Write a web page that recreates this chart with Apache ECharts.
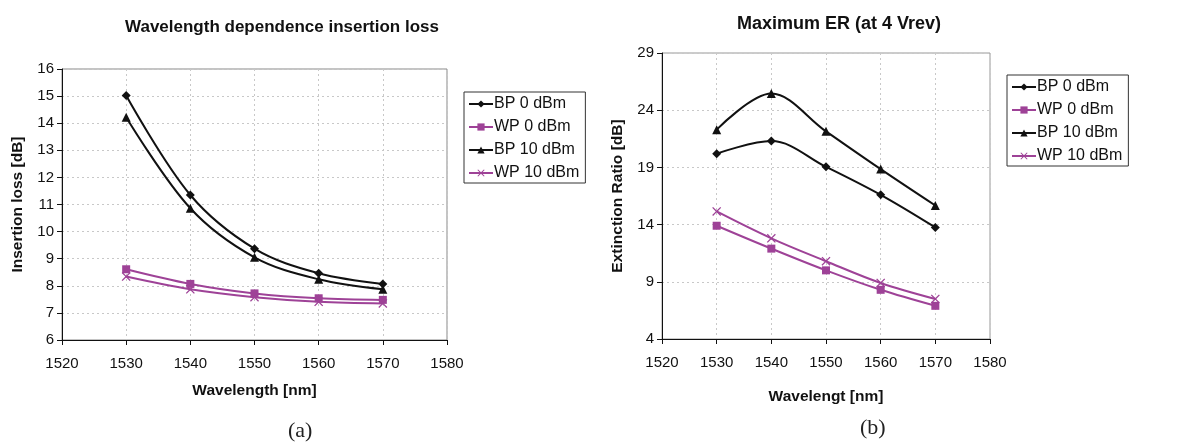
<!DOCTYPE html>
<html>
<head>
<meta charset="utf-8">
<script src="https://cdn.jsdelivr.net/npm/echarts@6/dist/echarts.min.js"></script>
<style>
  html, body { margin: 0; padding: 0; background: #fff; }
  #chart { width: 1191px; height: 446px; }
</style>
</head>
<body>
<div id="chart"></div>
<script>
// Wavelength points (nm)
const wavelengths = [1530, 1540, 1550, 1560, 1570];
const seriesNames = ['BP 0 dBm', 'WP 0 dBm', 'BP 10 dBm', 'WP 10 dBm'];

// (a) insertion loss [dB]
const ilBP0  = [15.02, 11.35, 9.37, 8.46, 8.07];
const ilWP0  = [8.61, 8.07, 7.72, 7.54, 7.48];
const ilBP10 = [14.22, 10.86, 9.05, 8.24, 7.87];
const ilWP10 = [8.34, 7.87, 7.58, 7.41, 7.35];

// (b) extinction ratio [dB]
const erBP0  = [20.2, 21.3, 19.05, 16.6, 13.75];
const erWP0  = [13.9, 11.9, 10.0, 8.3, 6.9];
const erBP10 = [22.3, 25.45, 22.15, 18.85, 15.67];
const erWP10 = [15.15, 12.8, 10.8, 8.9, 7.5];

const BLACK = '#111111';
const PURPLE = '#9e4297';
const crossPath = 'path://M0,1L1,0L5,4L9,0L10,1L6,5L10,9L9,10L5,6L1,10L0,9L4,5Z';

const styles = [
  { color: BLACK,  symbol: 'diamond',  size: 9 },
  { color: PURPLE, symbol: 'rect',     size: 8 },
  { color: BLACK,  symbol: 'triangle', size: 9 },
  { color: PURPLE, symbol: crossPath,  size: 9 }
];

function pairs(ys) { return wavelengths.map((x, i) => [x, ys[i]]); }

function makeSeries(values, axisIndex) {
  return values.map((ys, k) => ({
    name: seriesNames[k],
    type: 'line',
    smooth: 0.35,
    xAxisIndex: axisIndex,
    yAxisIndex: axisIndex,
    data: pairs(ys),
    symbol: styles[k].symbol,
    symbolSize: styles[k].size,
    lineStyle: { color: styles[k].color, width: 2 },
    itemStyle: { color: styles[k].color },
    emphasis: { disabled: true },
    z: 3
  }));
}

const tickFont = { fontFamily: 'Liberation Sans', fontSize: 15, color: '#111' };
const nameFont = { fontFamily: 'Liberation Sans', fontSize: 15.5, fontWeight: 'bold', color: '#111' };
const dotted = { show: true, lineStyle: { type: [2, 3], color: '#c8c8c8', width: 1 } };

function xAxis(gridIndex, name, gap) {
  return {
    type: 'value', gridIndex, min: 1520, max: 1580, interval: 10,
    name, nameLocation: 'middle', nameGap: gap, nameTextStyle: nameFont,
    axisLine: { show: true, lineStyle: { color: '#111', width: 1 } },
    axisTick: { show: true, length: 5, lineStyle: { color: '#111' } },
    axisLabel: Object.assign({ margin: 16, formatter: v => String(v) }, tickFont),
    splitLine: dotted
  };
}

function yAxis(gridIndex, name, min, max, interval, gap) {
  return {
    type: 'value', gridIndex, min, max, interval,
    name, nameLocation: 'middle', nameGap: gap, nameTextStyle: nameFont,
    axisLine: { show: true, lineStyle: { color: '#111', width: 1 } },
    axisTick: { show: true, length: 5, lineStyle: { color: '#111' } },
    axisLabel: Object.assign({ margin: 8 }, tickFont),
    splitLine: dotted
  };
}

function legend(left, top) {
  return {
    orient: 'vertical', left, top,
    data: seriesNames,
    itemWidth: 24, itemHeight: 9, itemGap: 7,
    padding: [4, 6, 2, 4],
    borderColor: '#333', borderWidth: 1,
    textStyle: { fontFamily: 'Liberation Sans', fontSize: 16, color: '#111', padding: [0, 0, 0, -4] },
    selectedMode: false
  };
}

const chart = echarts.init(document.getElementById('chart'), null, { renderer: 'canvas' });
chart.setOption({
  animation: false,
  backgroundColor: '#fff',
  title: [
    { text: 'Wavelength dependence insertion loss', left: 277, top: 14, textAlign: 'center',
      textStyle: { fontFamily: 'Liberation Sans', fontSize: 17, fontWeight: 'bold', color: '#111' } },
    { text: 'Maximum ER (at 4 Vrev)', left: 834, top: 10, textAlign: 'center',
      textStyle: { fontFamily: 'Liberation Sans', fontSize: 18, fontWeight: 'bold', color: '#111' } }
  ],
  legend: [legend(464, 92), legend(1007, 75)],
  grid: [
    { left: 62, top: 69, width: 385, height: 271, show: true, borderColor: '#888', borderWidth: 1, backgroundColor: 'transparent' },
    { left: 662, top: 53, width: 328, height: 286, show: true, borderColor: '#999', borderWidth: 1, backgroundColor: 'transparent' }
  ],
  xAxis: [xAxis(0, 'Wavelength [nm]', 43), xAxis(1, 'Wavelengt [nm]', 50)],
  yAxis: [yAxis(0, 'Insertion loss [dB]', 6, 16, 1, 36), yAxis(1, 'Extinction Ratio [dB]', 4, 29, 5, 36)],
  graphic: [
    { type: 'text', x: 288, y: 420, style: { text: '(a)', font: '22px "Liberation Serif"', fill: '#222' } },
    { type: 'text', x: 860, y: 417, style: { text: '(b)', font: '22px "Liberation Serif"', fill: '#222' } }
  ],
  series: [
    ...makeSeries([ilBP0, ilWP0, ilBP10, ilWP10], 0),
    ...makeSeries([erBP0, erWP0, erBP10, erWP10], 1)
  ]
});
</script>
</body>
</html>
